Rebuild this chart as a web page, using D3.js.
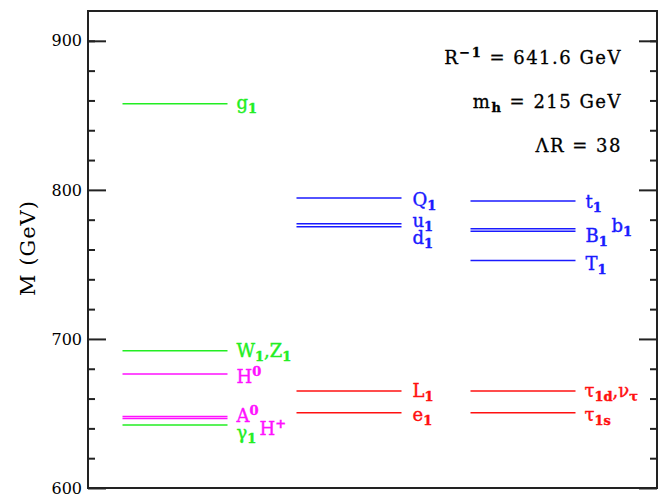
<!DOCTYPE html>
<html>
<head>
<meta charset="utf-8">
<script src="https://cdn.jsdelivr.net/npm/d3@7"></script>
<style>
  body { margin: 0; background: #fff; }
  svg { display: block; }
  text { font-family: "DejaVu Serif", serif; }
</style>
</head>
<body>
<div id="chart"></div>
<script>
// ---- data ----
const columns = ["gauge/Higgs", "quarks", "third generation"];
const majorTicks = [600, 700, 800, 900];
const minorTicks = [620, 640, 660, 680, 720, 740, 760, 780, 820, 840, 860, 880, 900];

// column 1: gauge bosons and Higgs
const bosonNames = ["g1", "W1Z1", "H0", "A0", "H+", "gamma1"];
const bosonMasses = [857.7, 692.0, 676.5, 648.0, 646.6, 642.3];
const bosonGroup = ["gauge", "gauge", "higgs", "higgs", "higgs", "gauge"];

// column 2: light quarks and leptons
const col2Names = ["Q1", "u1", "d1", "L1", "e1"];
const col2Masses = [794.6, 777.3, 775.3, 665.1, 650.5];
const col2Group = ["quark", "quark", "quark", "lepton", "lepton"];

// column 3: third generation
const col3Names = ["t1", "b1", "B1", "T1", "tau1d", "tau1s"];
const col3Masses = [792.6, 773.9, 772.3, 752.6, 665.1, 650.5];
const col3Group = ["quark", "quark", "quark", "quark", "lepton", "lepton"];

// ---- styles ----
const groupColor = { gauge: "#22ee22", higgs: "#ff11ff", quark: "#1a1aff", lepton: "#ff1010" };

// label rich text: [text, shift] where shift: 0 normal, -1 sub, 1 sup
const labelParts = {
  g1: [["g", 0], ["1", -1]],
  W1Z1: [["W", 0], ["1", -1], [",Z", 0], ["1", -1]],
  H0: [["H", 0], ["0", 1]],
  A0: [["A", 0], ["0", 1]],
  "H+": [["H", 0], ["+", 1]],
  gamma1: [["γ", 0], ["1", -1]],
  Q1: [["Q", 0], ["1", -1]],
  u1: [["u", 0], ["1", -1]],
  d1: [["d", 0], ["1", -1]],
  L1: [["L", 0], ["1", -1]],
  e1: [["e", 0], ["1", -1]],
  t1: [["t", 0], ["1", -1]],
  b1: [["b", 0], ["1", -1]],
  B1: [["B", 0], ["1", -1]],
  T1: [["T", 0], ["1", -1]],
  tau1d: [["τ", 0], ["1d", -1], [",ν", 0], ["τ", -1]],
  tau1s: [["τ", 0], ["1s", -1]]
};
// label placement offsets (pixels) relative to line end / line y
const labelOffset = {
  g1: [9, 5], W1Z1: [9, 6], H0: [9, 9], A0: [9, 6], "H+": [32, 16], gamma1: [9, 14],
  Q1: [11, 8], u1: [11, 3], d1: [11, 17],
  L1: [11, 6], e1: [11, 8],
  t1: [10, 7], b1: [36, 3], B1: [10, 11], T1: [10, 9],
  tau1d: [9, 6], tau1s: [9, 8]
};

// ---- layout ----
const W = 669, H = 498;
const frame = { left: 88, right: 657, top: 11, bottom: 488 };

const svg = d3.select("#chart").append("svg").attr("width", W).attr("height", H);

const y = d3.scaleLinear().domain([600, 920]).range([frame.bottom, frame.top]);
const x = d3.scalePoint().domain(columns).range([frame.left, 610]).padding(0.5);
const halfLen = 52.5;

// frame
svg.append("rect")
  .attr("x", frame.left).attr("y", frame.top)
  .attr("width", frame.right - frame.left).attr("height", frame.bottom - frame.top)
  .attr("fill", "none").attr("stroke", "#222").attr("stroke-width", 2);

// axes: left and right with inward ticks
const leftMajor = d3.axisRight(y).tickValues(majorTicks).tickSize(18).tickFormat("");
const leftMinor = d3.axisRight(y).tickValues(minorTicks).tickSize(7).tickFormat("");
const rightMajor = d3.axisLeft(y).tickValues(majorTicks).tickSize(18).tickFormat("");
const rightMinor = d3.axisLeft(y).tickValues(minorTicks).tickSize(7).tickFormat("");
[[leftMinor, frame.left], [leftMajor, frame.left], [rightMinor, frame.right], [rightMajor, frame.right]].forEach(([ax, px]) => {
  const g = svg.append("g").attr("transform", `translate(${px},0)`).call(ax);
  g.select(".domain").remove();
  g.selectAll(".tick line").attr("stroke", "#222").attr("stroke-width", 2);
});

// tick labels
const labelAxis = d3.axisLeft(y).tickValues(majorTicks).tickSize(0).tickPadding(6).tickFormat(d3.format("d"));
const la = svg.append("g").attr("transform", `translate(${frame.left},0)`).call(labelAxis);
la.select(".domain").remove();
la.selectAll(".tick text")
  .attr("font-family", "'Liberation Sans', Arial, sans-serif")
  .attr("font-size", 16).attr("fill", "#000");

// y title
svg.append("text")
  .attr("transform", `translate(35,248) rotate(-90)`)
  .attr("text-anchor", "middle")
  .attr("font-size", 21).attr("letter-spacing", 1)
  .attr("fill", "#000")
  .text("M (GeV)");

// levels
const levels = [];
bosonNames.forEach((n, i) => levels.push({ name: n, mass: bosonMasses[i], group: bosonGroup[i], col: columns[0] }));
col2Names.forEach((n, i) => levels.push({ name: n, mass: col2Masses[i], group: col2Group[i], col: columns[1] }));
col3Names.forEach((n, i) => levels.push({ name: n, mass: col3Masses[i], group: col3Group[i], col: columns[2] }));

svg.append("g").selectAll("line").data(levels).join("line")
  .attr("x1", d => x(d.col) - halfLen)
  .attr("x2", d => x(d.col) + halfLen)
  .attr("y1", d => y(d.mass)).attr("y2", d => y(d.mass))
  .attr("stroke", d => groupColor[d.group])
  .attr("stroke-width", 1.5);

// labels
const lab = svg.append("g").selectAll("text").data(levels).join("text")
  .attr("x", d => x(d.col) + halfLen + labelOffset[d.name][0])
  .attr("y", d => y(d.mass) + labelOffset[d.name][1])
  .attr("font-size", 18)
  .attr("fill", d => groupColor[d.group])
  .attr("stroke", d => groupColor[d.group])
  .attr("stroke-width", 0.4);
lab.each(function (d) {
  const t = d3.select(this);
  labelParts[d.name].forEach(([s, sh]) => {
    t.append("tspan")
      .attr("font-size", sh === 0 ? 18 : 13)
      .attr("font-weight", sh === 0 ? null : "bold")
      .attr("baseline-shift", sh === -1 ? "-4" : sh === 1 ? "7" : null)
      .text(s);
  });
});

// annotations
const annY = [64, 108, 152];
const ann = svg.append("g");
function addAnn(i, parts) {
  const t = ann.append("text").attr("x", 622).attr("y", annY[i])
    .attr("text-anchor", "end").attr("font-size", 18).attr("fill", "#000")
    .attr("stroke", "#000").attr("stroke-width", 0.3)
    .attr("letter-spacing", 1.5);
  parts.forEach(([s, sh]) => {
    t.append("tspan").attr("font-size", sh === 0 ? 18 : 13)
      .attr("font-weight", sh === 0 ? null : "bold")
      .attr("baseline-shift", sh === -1 ? "-4" : sh === 1 ? "7" : null)
      .text(s);
  });
}
addAnn(0, [["R", 0], ["−1", 1], [" = 641.6 GeV", 0]]);
addAnn(1, [["m", 0], ["h", -1], [" = 215 GeV", 0]]);
addAnn(2, [["ΛR = 38", 0]]);
</script>
</body>
</html>
